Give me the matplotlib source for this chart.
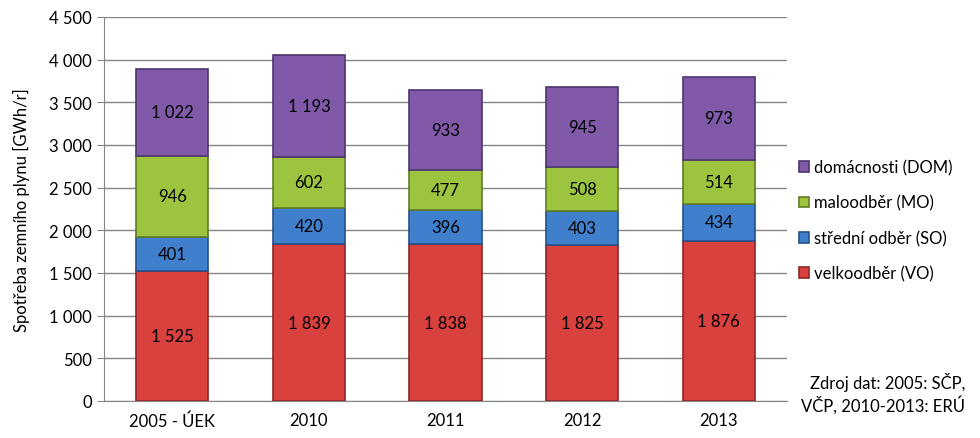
import matplotlib.pyplot as plt
import numpy as np
from matplotlib.ticker import FuncFormatter

plt.rcParams['font.family'] = ['Lato', 'DejaVu Sans']

categories = ['2005 - ÚEK', '2010', '2011', '2012', '2013']
vo = [1525, 1839, 1838, 1825, 1876]
so = [401, 420, 396, 403, 434]
mo = [946, 602, 477, 508, 514]
dom = [1022, 1193, 933, 945, 973]

series = [
    ('velkoodběr (VO)', vo, '#D9413F', '#8E2725'),
    ('střední odběr (SO)', so, '#3F7FCC', '#24518A'),
    ('maloodběr (MO)', mo, '#9CC43F', '#627D25'),
    ('domácnosti (DOM)', dom, '#8059A8', '#4E3570'),
]

def fmt(v):
    return f'{int(v):,}'.replace(',', ' ')

fig = plt.figure(figsize=(9.8, 4.39), dpi=100)
ax = fig.add_axes([0.1061, 0.0843, 0.697, 0.875])

x = np.arange(len(categories))
bottom = np.zeros(len(categories))
handles = []
for name, vals, col, edge in series:
    vals = np.array(vals)
    b = ax.bar(x, vals, 0.53, bottom=bottom, color=col, edgecolor=edge,
               linewidth=1.2, label=name, zorder=3)
    handles.append(b)
    for xi, v, bt in zip(x, vals, bottom):
        ax.text(xi, bt + v / 2, fmt(v), ha='center', va='center',
                fontsize=12, color='black', zorder=4)
    bottom += vals

ax.set_xlim(-0.5, 4.5)
ax.set_ylim(0, 4500)
ax.set_yticks(np.arange(0, 4501, 500))
ax.yaxis.set_major_formatter(FuncFormatter(lambda v, p: fmt(v)))
ax.grid(axis='y', color='#868686', linewidth=1, zorder=0)
ax.set_xticks(x)
ax.set_xticklabels(categories)
ax.tick_params(axis='both', labelsize=12, colors='#868686', labelcolor='black')
ax.tick_params(axis='x', length=0, pad=8)
ax.tick_params(axis='y', length=5)
for s in ['top', 'right']:
    ax.spines[s].set_visible(False)
for s in ['left', 'bottom']:
    ax.spines[s].set_color('#868686')
ax.set_ylabel('Spotřeba zemního plynu [GWh/r]', fontsize=12, labelpad=14)

ax.legend(handles[::-1], [h.get_label() for h in handles[::-1]],
          loc='center left', bbox_to_anchor=(0.995, 0.47), frameon=False,
          fontsize=12, handlelength=0.6, handleheight=0.6, handletextpad=0.3,
          labelspacing=1.15)

fig.text(0.985, 0.055, 'Zdroj dat: 2005: SČP,\nVČP, 2010-2013: ERÚ', ha='right',
         va='bottom', fontsize=12, linespacing=1.25)

fig.savefig('out.png', dpi=100)
